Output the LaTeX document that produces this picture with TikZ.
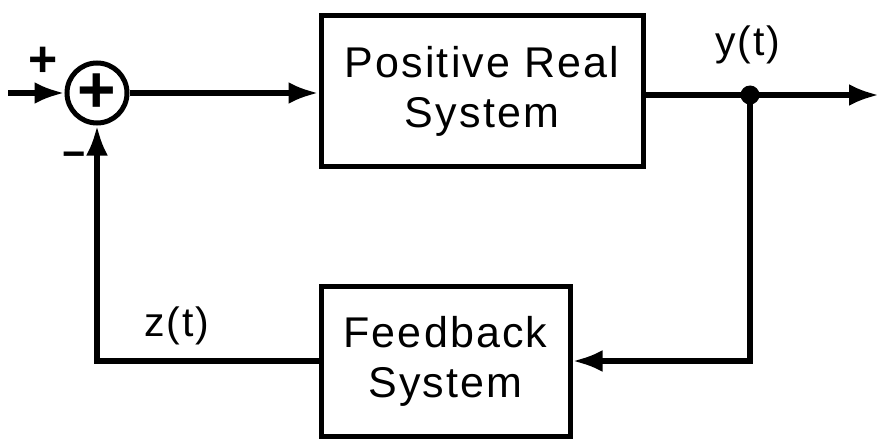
\documentclass[tikz,border=0pt]{standalone}
\usepackage{fontspec}
\setmainfont{Liberation Sans}[LetterSpace=5]
\usepackage{tikz}
\usetikzlibrary{
  arrows.meta,
  positioning,
  calc,
}
\tikzset{
  sysbox/.style={
    rectangle, draw, line width=5pt, inner sep=0pt,
    minimum width=322pt, minimum height=150pt,
    align=center, font=\fontsize{43}{50}\selectfont,
  },
  sumnode/.style={
    circle, draw, line width=5pt, inner sep=0pt, minimum size=60pt,
    font=\bfseries\fontsize{66}{66}\selectfont,
  },
  tapdot/.style={circle, fill, inner sep=0pt, minimum size=19pt},
  sigLabel/.style={font=\fontsize{41}{48}\selectfont},
  signLabel/.style={font=\bfseries\fontsize{50}{56}\selectfont},
  arrowSig/.style={
    -{Latex[length=30pt,width=22pt]}, line width=5.5pt,
  },
  lineSig/.style={line width=5.5pt},
}

\begin{document}
\begin{tikzpicture}[x=1pt,y=-1pt]
\useasboundingbox (0,0) rectangle (880,441);
\node[sumnode] (sum) at (97,93) {+};
\node[sysbox] (prs) at (482,91) {Positive Real\\System};
\node[sysbox, minimum width=249pt] (fbs) at (445.5,361) {Feedback\\System};
\node[tapdot] (tap) at (750,95) {};
\coordinate (in) at (8,93);
\coordinate (out) at (879,95);

\node[signLabel] (plus) at (43,62) {+};
\node[signLabel, font=\bfseries\fontsize{40}{48}\selectfont] (minus) at (74,160) {−};
\node[sigLabel] (ylab) at (748,45) {y(t)};
\node[sigLabel] (zlab) at (177,326) {z(t)};

\draw[arrowSig] (in) -- (sum.west);
\draw[arrowSig] (sum.east) -- (sum.east -| prs.west);
\draw[lineSig] (prs.east |- tap) -- (tap.center);
\draw[arrowSig] (tap.center) -- (out);
\draw[arrowSig] (tap.center) |- (fbs.east);
\draw[arrowSig] (fbs.west) -| (sum.south);
\end{tikzpicture}
\end{document}
